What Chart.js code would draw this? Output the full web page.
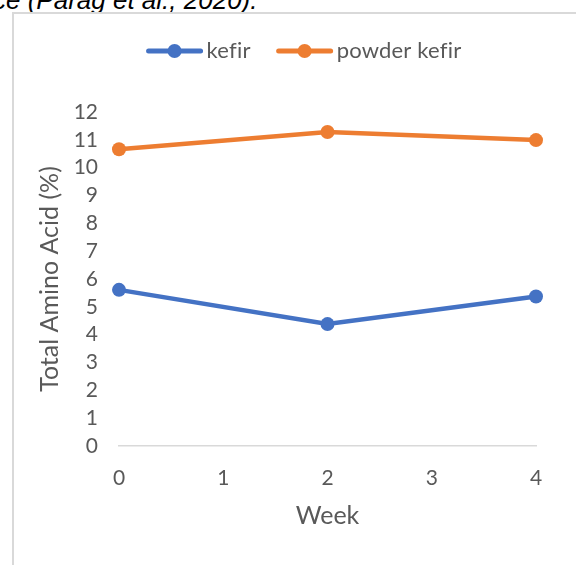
<!DOCTYPE html>
<html>
<head>
<meta charset="utf-8">
<script src="https://cdn.jsdelivr.net/npm/chart.js@4"></script>
<style>
  body { margin: 0; width: 576px; height: 565px; overflow: hidden; background: #fff; position: relative; }
  #caption { position: absolute; left: -7px; top: -13px; font: italic 26px "Liberation Sans", Arial, sans-serif; line-height: 26px; color: #000; white-space: nowrap; }
  #box { position: absolute; left: 12px; top: 12px; width: 640px; height: 640px; border-left: 2px solid #d9d9d9; border-top: 2px solid #d9d9d9; }
  #wrap { position: absolute; left: 0; top: 0; width: 576px; height: 565px; }
</style>
</head>
<body>
<div id="caption">ce (Parag et al., 2020).</div>
<div id="box"></div>
<div id="wrap"><canvas id="chart"></canvas></div>
<script>
// valores
const weeks = [0, 2, 4];
const kefir = [5.61, 4.38, 5.37];
const powderKefir = [10.66, 11.28, 10.99];
const seriesNames = ['kefir', 'powder kefir'];
const seriesColors = ['#4472C4', '#ED7D31'];

const textColor = '#595959';
const fontFamily = 'Lato, "Open Sans", sans-serif';

// legenda estilo Excel: linha com marcador no meio
const lineLegend = {
  id: 'lineLegend',
  afterDraw(chart) {
    const ctx = chart.ctx;
    const lineLen = 56, gap = 4, spacing = 26;
    ctx.save();
    ctx.font = '22px ' + fontFamily;
    ctx.letterSpacing = '0.2px'; // evita a ligadura "fi"
    let total = 0;
    chart.data.datasets.forEach((ds, i) => {
      total += lineLen + gap + ctx.measureText(ds.label).width + (i ? spacing : 0);
    });
    let x = 304 - total / 2;
    const y = 51;
    chart.data.datasets.forEach(ds => {
      ctx.strokeStyle = ds.borderColor;
      ctx.lineWidth = 5;
      ctx.lineCap = 'round';
      ctx.beginPath();
      ctx.moveTo(x + 2, y);
      ctx.lineTo(x + lineLen - 2, y);
      ctx.stroke();
      ctx.fillStyle = ds.borderColor;
      ctx.beginPath();
      ctx.arc(x + lineLen / 2, y, 7, 0, Math.PI * 2);
      ctx.fill();
      x += lineLen + gap;
      ctx.fillStyle = textColor;
      ctx.textBaseline = 'middle';
      ctx.textAlign = 'left';
      ctx.fillText(ds.label, x, y);
      x += ctx.measureText(ds.label).width + spacing;
    });
    ctx.restore();
  }
};

const datasets = [kefir, powderKefir].map((values, i) => ({
  label: seriesNames[i],
  data: weeks.map((w, j) => ({ x: w, y: values[j] })),
  borderColor: seriesColors[i],
  backgroundColor: seriesColors[i],
  pointBackgroundColor: seriesColors[i],
  pointBorderColor: seriesColors[i],
  borderWidth: 4.5,
  pointRadius: 7,
  pointBorderWidth: 0,
  tension: 0,
  clip: false
}));

new Chart(document.getElementById('chart'), {
  type: 'line',
  data: { datasets: datasets },
  options: {
    responsive: true,
    maintainAspectRatio: false,
    animation: false,
    layout: { padding: { left: 0, right: 40, top: 112, bottom: 0 } },
    plugins: {
      legend: { display: false },
      tooltip: { enabled: false }
    },
    scales: {
      x: {
        type: 'linear',
        min: 0,
        max: 4,
        ticks: { stepSize: 1, autoSkip: false, padding: 12, color: textColor, font: { family: fontFamily, size: 21 } },
        grid: { display: false },
        border: { display: true, color: '#d9d9d9', width: 1.5 },
        title: { display: true, text: 'Week', color: textColor, font: { family: fontFamily, size: 25 }, padding: { top: 0, bottom: 34 } },
        afterFit(scale) { scale.height = 119; }
      },
      y: {
        min: 0,
        max: 12,
        ticks: { stepSize: 1, autoSkip: false, padding: 13, color: textColor, font: { family: fontFamily, size: 21 } },
        grid: { display: false },
        border: { display: false },
        title: { display: true, text: 'Total Amino Acid (%)', color: textColor, font: { family: fontFamily, size: 25 }, padding: { top: 35, bottom: 0 } },
        afterFit(scale) { scale.width = 119; }
      }
    }
  },
  plugins: [lineLegend]
});
</script>
</body>
</html>
